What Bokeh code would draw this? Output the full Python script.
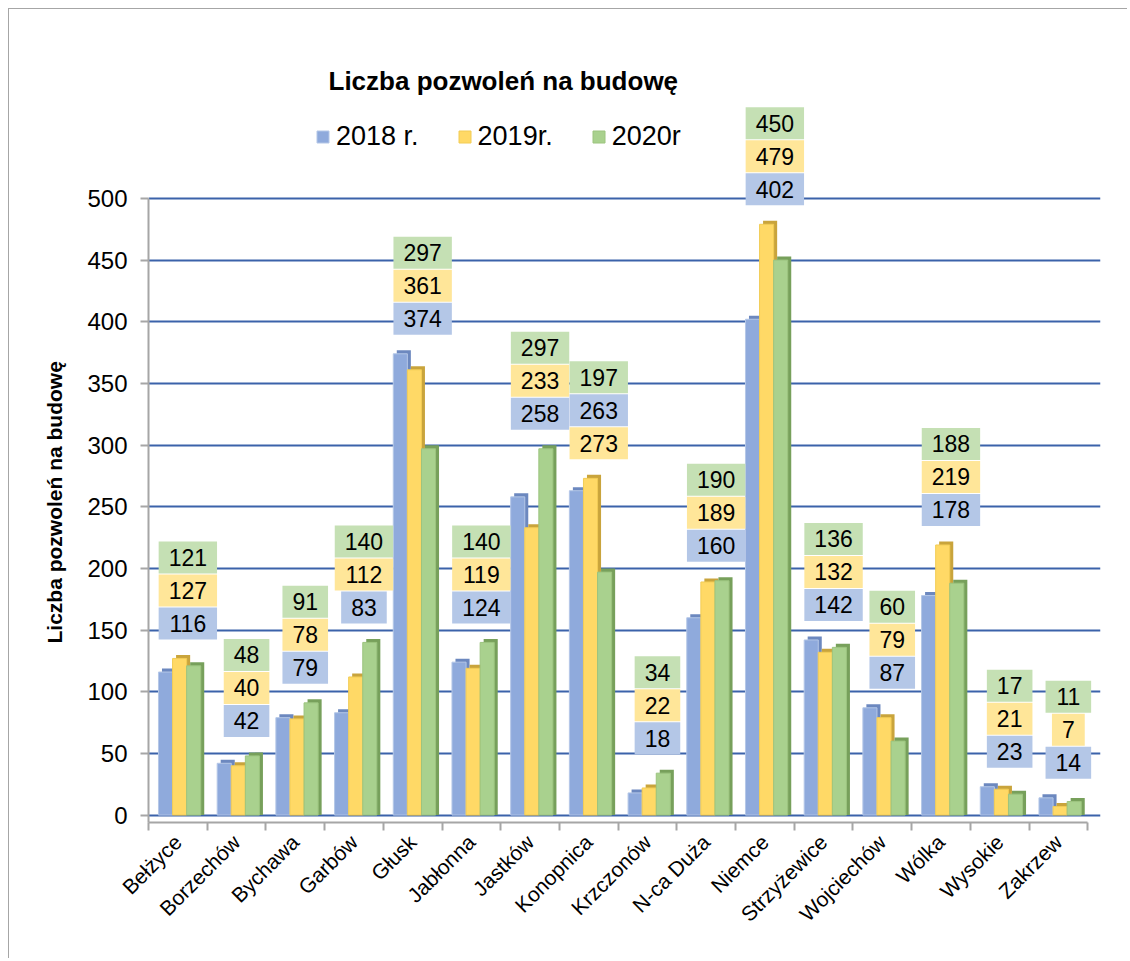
import numpy as np
from bokeh.plotting import figure
from bokeh.models import FixedTicker, Legend, LegendItem, Label, Title
from bokeh.embed import file_html
from bokeh.resources import INLINE
from bokeh.core.properties import value

# ---------------- data ----------------
categories = ["Bełżyce", "Borzechów", "Bychawa", "Garbów", "Głusk", "Jabłonna",
              "Jastków", "Konopnica", "Krzczonów", "N-ca Duża", "Niemce",
              "Strzyżewice", "Wojciechów", "Wólka", "Wysokie", "Zakrzew"]
series_names = ["2018 r.", "2019r.", "2020r"]
v2018 = [116, 42, 79, 83, 374, 124, 258, 263, 18, 160, 402, 142, 87, 178, 23, 14]
v2019 = [127, 40, 78, 112, 361, 119, 233, 273, 22, 189, 479, 132, 79, 219, 21, 7]
v2020 = [121, 48, 91, 140, 297, 140, 297, 197, 34, 190, 450, 136, 60, 188, 17, 11]
y_ticks = [0, 50, 100, 150, 200, 250, 300, 350, 400, 450, 500]
chart_title = "Liczba pozwoleń na budowę"
y_axis_title = "Liczba pozwoleń na budowę"
# label stacking order exceptions (bottom -> top, series index)
label_order_exceptions = {"Konopnica": [1, 0, 2]}

# ---------------- layout / style ----------------
ORG = 9                      # canvas origin on the page (margin + border)
W, H = 1119, 950
BL, BR, BT, BB = 139, 28, 31, 137
frame_w = W - BL - BR
frame_h = H - BT - BB
Y0, Y1 = -6, 628
cat_px = 58.7
x_end = frame_w / cat_px
ppu_y = frame_h / (Y1 - Y0)
ppu_x = frame_w / x_end


def page_to_x(px):
    return (px - ORG - BL) / ppu_x


def page_to_y(py):
    return Y0 + (ORG + BT + frame_h - py) / ppu_y


FONT_NAME = "Liberation Sans"
FONT = value(FONT_NAME)
face_colors = ["#8FAADC", "#FFD966", "#A9D18E"]
side_colors = ["#6C88BF", "#C9A43C", "#77A05B"]
rim_colors = ["#B4C7E7", "#F2CC55", "#9CC47F"]
box_colors = ["#B4C7E7", "#FFE699", "#C5E0B4"]
offsets = [-0.21, 0.03, 0.27]
bar_w = 0.24
dx = 3.5 / ppu_x
dy = 3.5 / ppu_y

series = [np.array(v2018), np.array(v2019), np.array(v2020)]
n = len(categories)
idx = np.arange(n)

p = figure(width=W, height=H, x_range=(0, x_end), y_range=(Y0, Y1),
           output_backend="svg", toolbar_location=None,
           min_border_left=BL, min_border_right=BR,
           min_border_top=BT, min_border_bottom=BB)
p.outline_line_color = None
p.background_fill_color = "white"
p.border_fill_color = "white"
p.styles = {"margin-left": "8px", "margin-top": "8px",
            "border-left": "1px solid #A6A6A6", "border-top": "1px solid #A6A6A6"}

# grid
p.xgrid.visible = False
p.ygrid.grid_line_color = "#3B62AA"
p.ygrid.grid_line_width = 2

# y axis
p.yaxis.ticker = FixedTicker(ticks=y_ticks)
p.yaxis.bounds = (Y0, y_ticks[-1])
p.yaxis.axis_line_color = "#A6A6A6"
p.yaxis.axis_line_width = 2
p.yaxis.major_tick_line_color = "#A6A6A6"
p.yaxis.major_tick_line_width = 2
p.yaxis.major_tick_out = 8
p.yaxis.major_tick_in = 0
p.yaxis.minor_tick_line_color = None
p.yaxis.major_label_text_font = FONT_NAME
p.yaxis.major_label_text_font_size = "24px"
p.yaxis.major_label_text_color = "black"
p.yaxis.major_label_standoff = 13

# x axis
p.xaxis.ticker = FixedTicker(ticks=list(idx + 0.5), minor_ticks=list(range(n + 1)))
p.xaxis.major_label_overrides = {float(i + 0.5): c for i, c in enumerate(categories)}
p.xaxis.bounds = (0, n)
p.xaxis.axis_line_color = "#A6A6A6"
p.xaxis.axis_line_width = 2
p.xaxis.major_tick_out = 0
p.xaxis.major_tick_in = 0
p.xaxis.major_tick_line_color = None
p.xaxis.minor_tick_line_color = "#A6A6A6"
p.xaxis.minor_tick_line_width = 2
p.xaxis.minor_tick_out = 8
p.xaxis.minor_tick_in = 0
p.xaxis.major_label_orientation = np.pi / 4
p.xaxis.major_label_text_font = FONT_NAME
p.xaxis.major_label_text_font_size = "21px"
p.xaxis.major_label_text_color = "black"
p.xaxis.major_label_standoff = 8

# bars (pseudo 3D)
face_renderers = []
for s, vals in enumerate(series):
    x = idx + 0.5 + offsets[s]
    p.vbar(x=x + dx, top=vals + dy, bottom=0, width=bar_w,
           fill_color=side_colors[s], line_color=None)
    r = p.vbar(x=x, top=vals, bottom=0, width=bar_w,
               fill_color=face_colors[s], line_color=rim_colors[s], line_width=1)
    face_renderers.append(r)

# data labels in stacked boxes
gap_px, step_px, box_h = 35, 33, 32
lab_x, lab_y, lab_t, lab_w, lab_c = [], [], [], [], []
for i, c in enumerate(categories):
    vals_i = [series[s][i] for s in range(3)]
    order = label_order_exceptions.get(c, [0, 1, 2])
    base = max(vals_i) + gap_px / ppu_y
    for k, s in enumerate(order):
        t = str(vals_i[s])
        lab_x.append(i + 0.5 + 10 / ppu_x)
        lab_y.append(base + k * step_px / ppu_y)
        lab_t.append(t)
        lab_w.append(len(t) * 12.8 + 20)
        lab_c.append(box_colors[s])

p.rect(x=lab_x, y=lab_y, width=lab_w, height=box_h, width_units="screen",
       height_units="screen", fill_color=lab_c, line_color=None)
p.text(x=lab_x, y=lab_y, text=lab_t, text_font=FONT, text_font_size="23px",
       text_align="center", text_baseline="middle", text_color="black")

# title
p.add_layout(Label(x=page_to_x(328), y=page_to_y(80),
                   text=chart_title, text_font=FONT_NAME, text_font_size="26px",
                   text_font_style="bold", text_color="black",
                   text_align="left", text_baseline="alphabetic"))

# y axis title (left side title, placed along the 0..500 part of the axis)
p.add_layout(Title(text=y_axis_title, align="left", offset=179,
                   text_font=FONT_NAME, text_font_size="21px",
                   text_font_style="bold", text_color="black", standoff=38), "left")

# legend
legend = Legend(items=[LegendItem(label=series_names[s], renderers=[face_renderers[s]])
                       for s in range(3)],
                orientation="horizontal", location=(167, 670),
                label_text_font=FONT_NAME, label_text_font_size="27px",
                label_text_color="black", glyph_width=15, glyph_height=15,
                spacing=38, label_standoff=6, padding=0, margin=0,
                border_line_color=None, background_fill_alpha=0)
p.add_layout(legend)

open("out.html", "w").write(file_html(p, INLINE))
